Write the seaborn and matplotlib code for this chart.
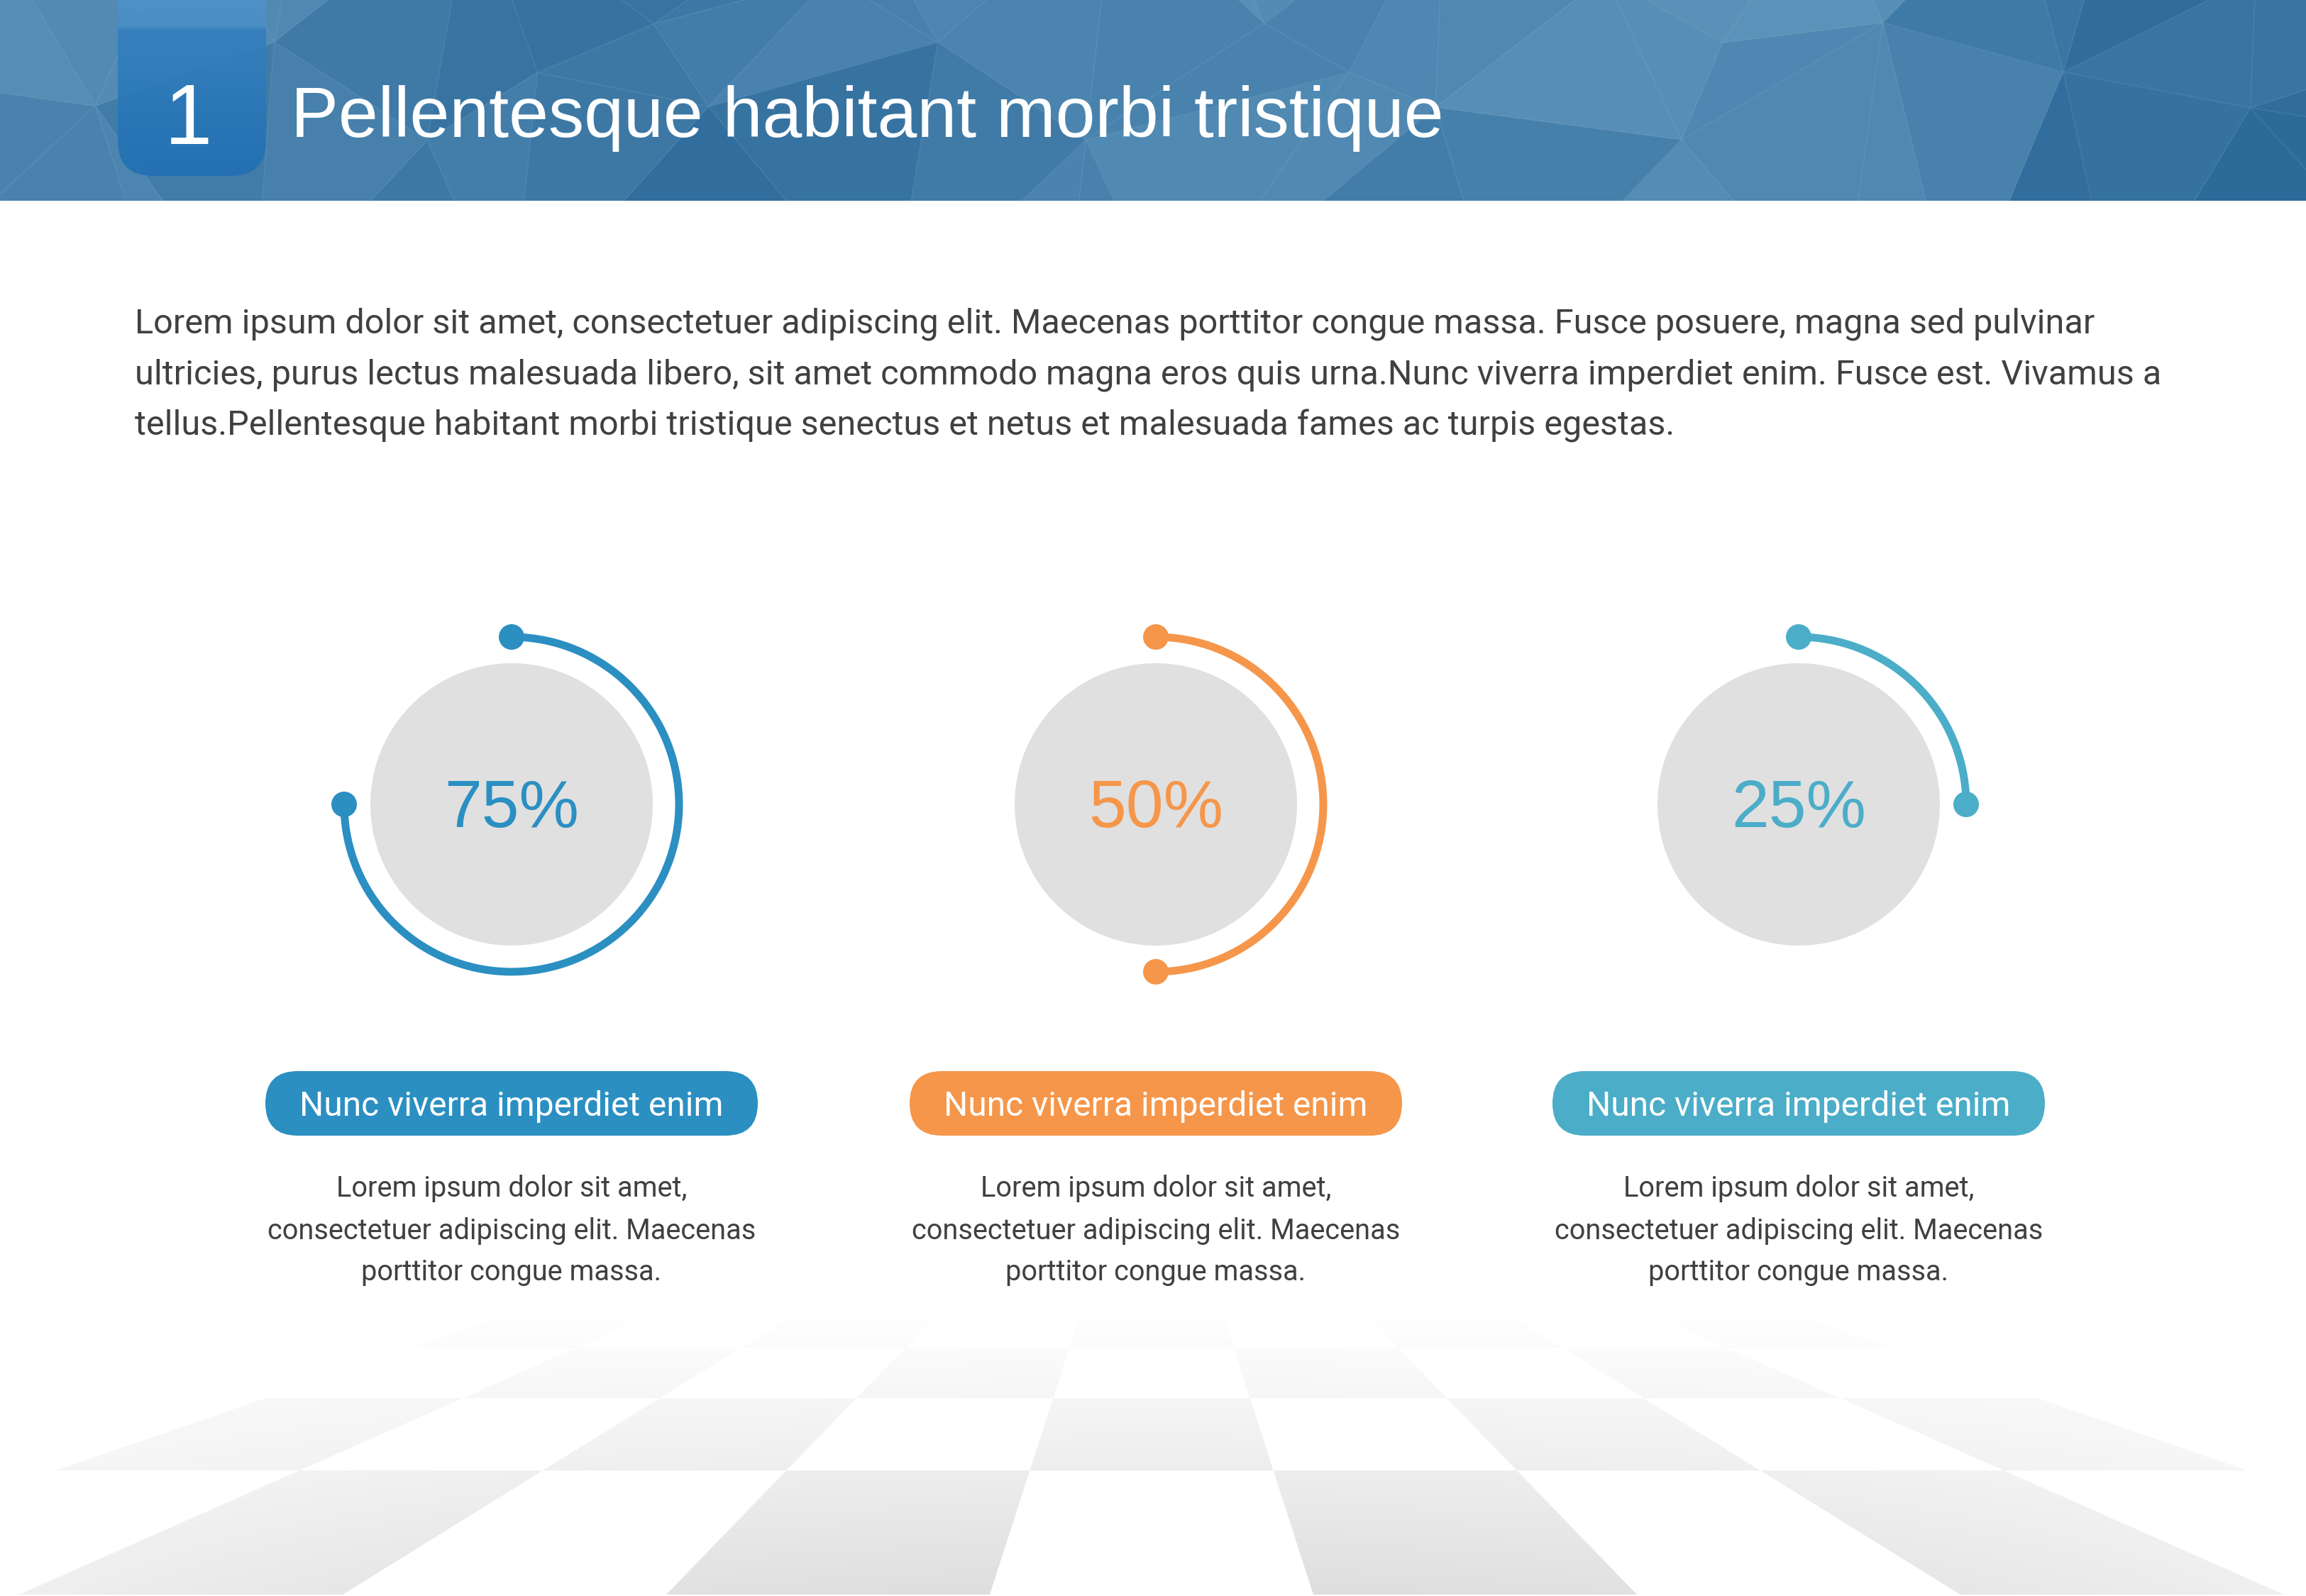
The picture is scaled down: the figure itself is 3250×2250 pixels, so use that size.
import numpy as np
import pandas as pd
import seaborn as sns
import matplotlib.pyplot as plt
import matplotlib.tri as mtri
from matplotlib.patches import FancyBboxPatch, Rectangle, Circle, PathPatch
from matplotlib.path import Path
from matplotlib.colors import LinearSegmentedColormap

# ---- content ----
section_no = "1"
title = "Pellentesque habitant morbi tristique"
intro_lines = [
    "Lorem ipsum dolor sit amet, consectetuer adipiscing elit. Maecenas porttitor congue massa. Fusce posuere, magna sed pulvinar",
    "ultricies, purus lectus malesuada libero, sit amet commodo magna eros quis urna.Nunc viverra imperdiet enim. Fusce est. Vivamus a",
    "tellus.Pellentesque habitant morbi tristique senectus et netus et malesuada fames ac turpis egestas.",
]
percents = [75, 50, 25]
pill_labels = ["Nunc viverra imperdiet enim"] * 3
desc_lines = ["Lorem ipsum dolor sit amet,",
              "consectetuer adipiscing elit. Maecenas",
              "porttitor congue massa."]
gauge_colors = ["#2B8FC2", "#F5964A", "#4BADC8"]

W, H = 3250, 2250
HEAD = 283
BODY_FONT = ["Roboto", "DejaVu Sans"]
HEAD_FONT = ["Liberation Sans", "DejaVu Sans"]
TXT = "#404040"

sns.set_theme(style="white")
fig = plt.figure(figsize=(W / 100, H / 100), dpi=100)
ax = fig.add_axes([0, 0, 1, 1])
renderer = fig.canvas.get_renderer()


def fit_size(s, family, width):
    t = ax.text(0, 0, s, fontsize=100, family=family)
    w = t.get_window_extent(renderer).width
    t.remove()
    return 100 * width / w


# ---- header low-poly band ----
hdr_rect = Rectangle((0, 0), W, HEAD, facecolor="#4A80AA", edgecolor="none", zorder=0)
ax.add_patch(hdr_rect)
gx = np.linspace(-200, 3450, 12)
gy = [-160, 20, 150, 460]
px, py = [], []
for j, y in enumerate(gy):
    for i, x in enumerate(gx):
        jx = 140 * np.sin(1.7 * i + 2.3 * j) if 0 < i < len(gx) - 1 else 0
        jy = 55 * np.cos(2.1 * i + 1.3 * j) if 0 < j < len(gy) - 1 else 0
        px.append(x + jx)
        py.append(y + jy)
tri = mtri.Triangulation(px, py)
cxs = np.mean(np.array(px)[tri.triangles], axis=1)
cys = np.mean(np.array(py)[tri.triangles], axis=1)
shade = np.interp(cxs, [0, 400, 900, 1400, 2000, 2600, 2900, 3250],
                  [0.55, 0.45, 0.22, 0.45, 0.58, 0.62, 0.22, 0.1])
shade = np.clip(shade + 0.12 * np.sin(cxs / 170 + cys / 60) - 0.08 * (cys / 280), 0, 1)
hdr_cmap = LinearSegmentedColormap.from_list("hdr", ["#2C6A9A", "#6DA1C5"])
pc = ax.tripcolor(tri, facecolors=shade, cmap=hdr_cmap, vmin=0, vmax=1,
                  edgecolors="face", zorder=1)
pc.set_clip_path(hdr_rect)
edges = ax.triplot(tri, color="white", alpha=0.09, linewidth=1.0, zorder=1)
for ln in edges:
    ln.set_clip_path(hdr_rect)

# number tab
tab = FancyBboxPatch((166, -100), 209, 348, boxstyle="round,pad=0,rounding_size=50",
                     facecolor="none", edgecolor="none", zorder=2)
ax.add_patch(tab)
tab_cmap = LinearSegmentedColormap.from_list(
    "tab", [(0, "#4E93CB"), (0.15, "#4A8DC6"), (0.17, "#3580BE"), (1, "#2270B3")])
im = ax.imshow(np.linspace(0, 1, 256)[:, None], extent=[166, 375, 248, 0],
               cmap=tab_cmap, aspect="auto", alpha=0.93, zorder=2)
im.set_clip_path(tab)

ax.text(265, 203, section_no, fontsize=87, family=HEAD_FONT, color="white",
        ha="center", va="baseline", zorder=3)
ax.text(410, 193, title, fontsize=fit_size(title, HEAD_FONT, 1625), family=HEAD_FONT,
        color="white", ha="left", va="baseline", zorder=3)

# ---- intro paragraph ----
fs_intro = fit_size(intro_lines[1], BODY_FONT, 2853)
for line, yb in zip(intro_lines, [470, 542, 613]):
    ax.text(190, yb, line, fontsize=fs_intro, family=BODY_FONT, color=TXT,
            ha="left", va="baseline")

# ---- checkered floor ----
vx, vy, k = 1623, 1541, 0.645
rows = [(2073, 2248), (1971, 2073), (1900, 1971), (1849, 1900)]


def bx(kk, y):
    return vx + (kk + 0.5) * k * (y - vy)


verts, codes = [], []
for r, (y0, y1) in enumerate(rows):
    for c in range(-5, 4):
        if (c + r) % 2 == 0:
            verts += [(bx(c, y0), y0), (bx(c + 1, y0), y0), (bx(c + 1, y1), y1),
                      (bx(c, y1), y1), (0, 0)]
            codes += [Path.MOVETO, Path.LINETO, Path.LINETO, Path.LINETO, Path.CLOSEPOLY]
floor_patch = PathPatch(Path(verts, codes), facecolor="none", edgecolor="none")
ax.add_patch(floor_patch)
X, Y = np.meshgrid(np.linspace(0, W, 800), np.linspace(1840, 2250, 200))
tt = np.clip((Y - 1845) / (2248 - 1845), 0, 1)
dark = 0.13 * tt ** 1.1 * (1 - 0.55 * ((X - 1625) / 1625) ** 2)
floor_img = np.dstack([1 - dark] * 3)
fim = ax.imshow(floor_img, extent=[0, W, 2250, 1840], aspect="auto", zorder=1)
fim.set_clip_path(floor_patch)

# ---- gauges ----
centers = [721, 1629, 2535]
cy, R, R_in = 1134, 236, 199

arc_rows, dot_rows = [], []
for g, (cx, p) in enumerate(zip(centers, percents)):
    th = np.linspace(0, 2 * np.pi * p / 100, 300)
    for t in th:
        arc_rows.append({"gauge": g, "x": cx + R * np.sin(t), "y": cy - R * np.cos(t)})
    for t in (th[0], th[-1]):
        dot_rows.append({"gauge": g, "x": cx + R * np.sin(t), "y": cy - R * np.cos(t)})
arc_df = pd.DataFrame(arc_rows)
dot_df = pd.DataFrame(dot_rows)

for cx in centers:
    ax.add_patch(Circle((cx, cy), R_in, facecolor="#E0E0E0", edgecolor="none", zorder=2))

sns.lineplot(data=arc_df, x="x", y="y", hue="gauge", hue_order=[0, 1, 2],
             palette=gauge_colors, sort=False, estimator=None, linewidth=7.9,
             legend=False, ax=ax, zorder=3)
sns.scatterplot(data=dot_df, x="x", y="y", hue="gauge", hue_order=[0, 1, 2],
                palette=gauge_colors, s=(2 * 18 * 0.72) ** 2, linewidth=0,
                legend=False, ax=ax, zorder=4)

fs_pct = fit_size("75%", HEAD_FONT, 190)
fs_pill = fit_size(pill_labels[0], BODY_FONT, 597)
fs_desc = fit_size(desc_lines[1], BODY_FONT, 690)
for cx, p, lab, col in zip(centers, percents, pill_labels, gauge_colors):
    ax.text(cx, 1166, f"{p}%", fontsize=fs_pct, family=HEAD_FONT, color=col,
            ha="center", va="baseline", zorder=5)
    ax.add_patch(FancyBboxPatch((cx - 347, 1510), 694, 91,
                                boxstyle="round,pad=0,rounding_size=45.5",
                                facecolor=col, edgecolor="none", zorder=3))
    ax.text(cx, 1573, lab, fontsize=fs_pill, family=BODY_FONT, color="white",
            ha="center", va="baseline", zorder=4)
    for line, yb in zip(desc_lines, [1687, 1747, 1805]):
        ax.text(cx, yb, line, fontsize=fs_desc, family=BODY_FONT, color=TXT,
                ha="center", va="baseline", zorder=4)

ax.set_xlim(0, W)
ax.set_ylim(H, 0)
ax.axis("off")
fig.savefig("out.png", dpi=100, facecolor="white")
